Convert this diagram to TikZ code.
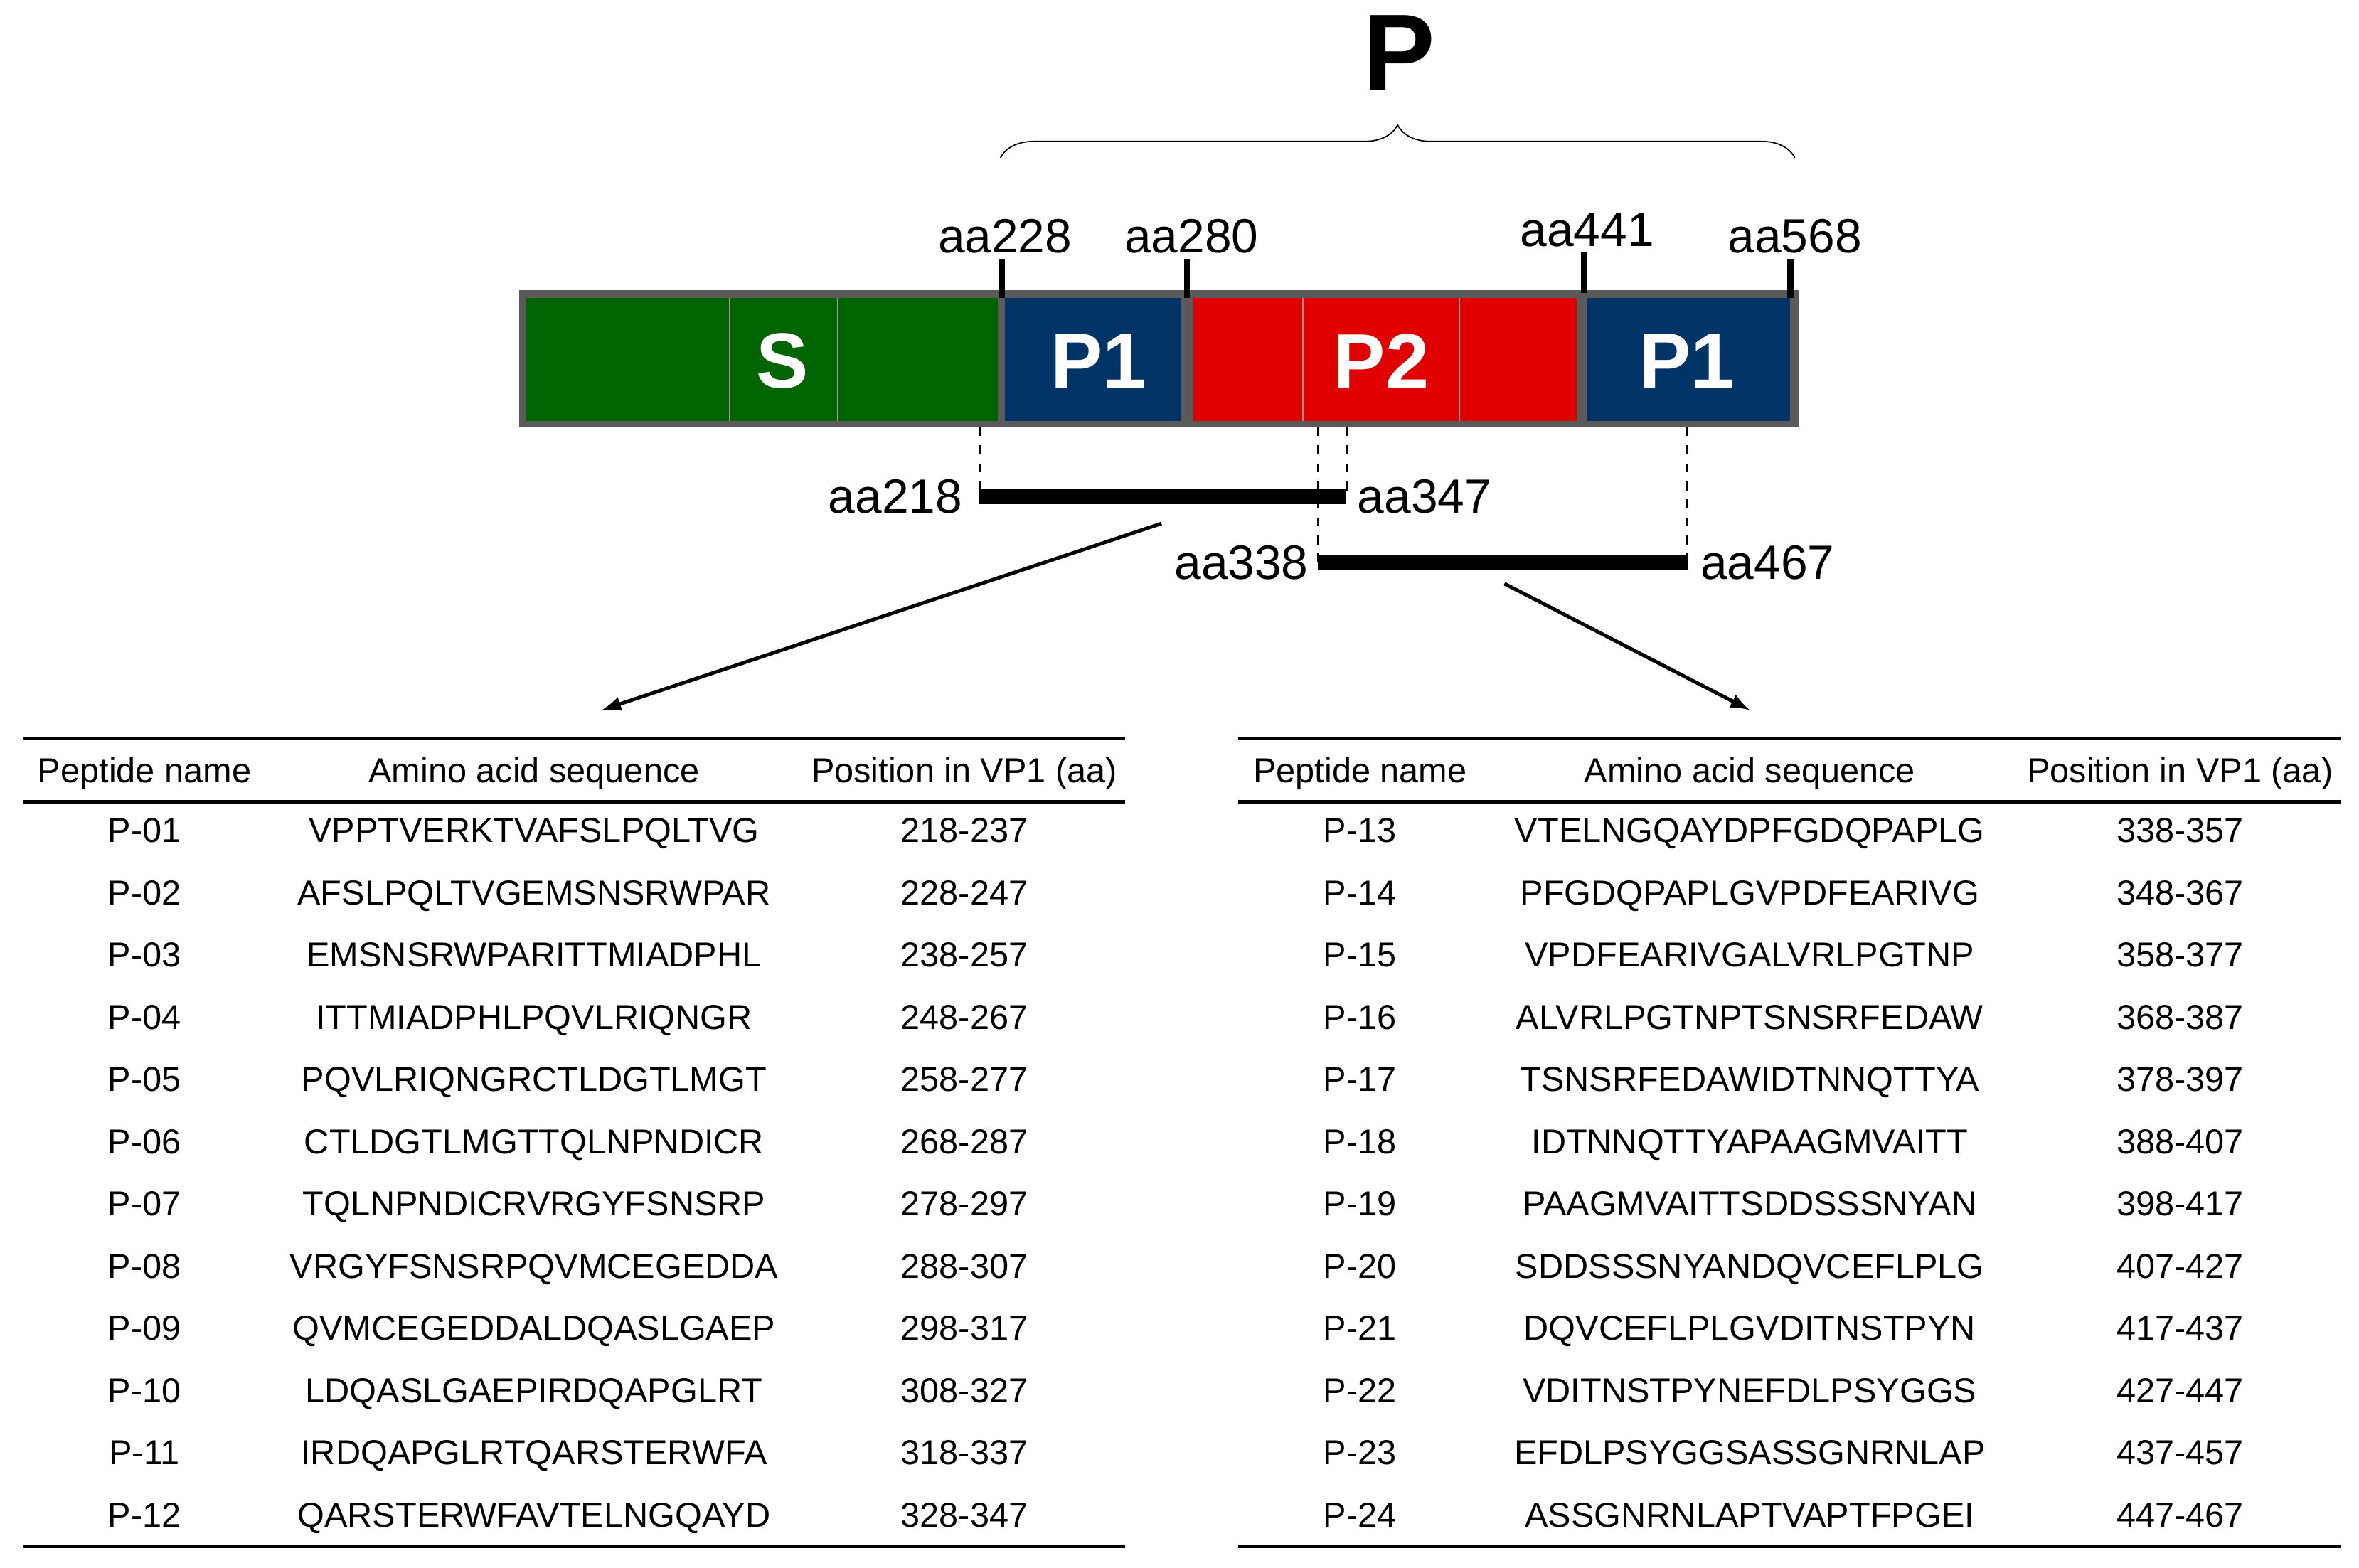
\documentclass[tikz,border=0pt]{standalone}
\usepackage{fontspec}
\setmainfont{Liberation Sans}
\usetikzlibrary{decorations.pathreplacing}
\definecolor{gG}{RGB}{0,100,0}
\definecolor{bB}{RGB}{0,51,102}
\definecolor{rR}{RGB}{224,0,0}
\definecolor{frame}{RGB}{90,90,90}
\begin{document}
\begin{tikzpicture}[x=0.5pt,y=-0.5pt,
  lab/.style={font=\fontsize{16}{16}\selectfont,inner sep=0pt},
  seg/.style={font=\fontsize{26}{26}\selectfont\bfseries,text=white,inner sep=0pt},
  cell/.style={font=\fontsize{11.5}{11.5}\selectfont,inner sep=0pt,anchor=base},
  sep/.style={draw=frame!60,line width=0.4pt}]
\useasboundingbox (0,0) rectangle (1568,1042);
\node[font=\fontsize{36}{36}\selectfont\bfseries] (P) at (930,35) {P};
\draw[decorate,decoration={brace,amplitude=11pt,aspect=0.5}] (665,105) -- (1193,105);
% bar
\fill[frame] (345,193) rectangle (1196,284);
\fill[gG] (350,198) rectangle (663,280);
\fill[bB] (668,198) rectangle (785,280);
\fill[rR] (793,198) rectangle (1048,280);
\fill[bB] (1055,198) rectangle (1190,280);
\draw[sep] (485,198)--(485,280) (557,198)--(557,280) (680,198)--(680,280) (866,198)--(866,280) (970,198)--(970,280);
\node[seg] (S) at (520,240) {S};
\node[seg] (P1a) at (730,240) {P1};
\node[seg] (P2) at (918,240) {P2};
\node[seg] (P1b) at (1121,240) {P1};
\draw[line width=2pt] (666,172)--(666,198) (789,172)--(789,198) (1053,168)--(1053,195) (1190,172)--(1190,198);
\node[lab] (l228) at (668,157) {aa228};
\node[lab] (l280) at (792,157) {aa280};
\node[lab] (l441) at (1055,153) {aa441};
\node[lab] (l568) at (1193,157) {aa568};
% fragments
\draw[dashed,line width=0.7pt] (651,284)--(651,330) (876,284)--(876,374) (895,284)--(895,330) (1121,284)--(1121,374);
\draw[line width=5pt] (651,330)--(895,330);
\draw[line width=5pt] (876,374)--(1122,374);
\node[lab,anchor=east] (l218) at (640,330) {aa218};
\node[lab,anchor=west] (l347) at (902,330) {aa347};
\node[lab,anchor=east] (l338) at (870,374) {aa338};
\node[lab,anchor=west] (l467) at (1130,374) {aa467};
\coordinate (a1) at (772,348); \coordinate (b1) at (400,472);
\coordinate (a2) at (1000,388); \coordinate (b2) at (1163,472);
\draw[-latex,line width=1.2pt] (a1)--(b1);
\draw[-latex,line width=1.2pt] (a2)--(b2);
% tables
\foreach \ox/\first in {0/1,808/13}{
  \draw[line width=1pt] (15+\ox,491)--(748+\ox,491) (15+\ox,533)--(748+\ox,533) (15+\ox,1028)--(748+\ox,1028);
  \node[cell] at (96+\ox,520) {Peptide name};
  \node[cell] at (355+\ox,520) {Amino acid sequence};
  \node[cell] at (641+\ox,520) {Position in VP1 (aa)};
}
\foreach \i/\n/\s/\p in {0/01/VPPTVERKTVAFSLPQLTVG/218-237,1/02/AFSLPQLTVGEMSNSRWPAR/228-247,2/03/EMSNSRWPARITTMIADPHL/238-257,3/04/ITTMIADPHLPQVLRIQNGR/248-267,4/05/PQVLRIQNGRCTLDGTLMGT/258-277,5/06/CTLDGTLMGTTQLNPNDICR/268-287,6/07/TQLNPNDICRVRGYFSNSRP/278-297,7/08/VRGYFSNSRPQVMCEGEDDA/288-307,8/09/QVMCEGEDDALDQASLGAEP/298-317,9/10/LDQASLGAEPIRDQAPGLRT/308-327,10/11/IRDQAPGLRTQARSTERWFA/318-337,11/12/QARSTERWFAVTELNGQAYD/328-347}{
  \node[cell] at (96,560+41.36*\i) {P-\n};
  \node[cell] at (355,560+41.36*\i) {\s};
  \node[cell] at (641,560+41.36*\i) {\p};
}
\foreach \i/\n/\s/\p in {0/13/VTELNGQAYDPFGDQPAPLG/338-357,1/14/PFGDQPAPLGVPDFEARIVG/348-367,2/15/VPDFEARIVGALVRLPGTNP/358-377,3/16/ALVRLPGTNPTSNSRFEDAW/368-387,4/17/TSNSRFEDAWIDTNNQTTYA/378-397,5/18/IDTNNQTTYAPAAGMVAITT/388-407,6/19/PAAGMVAITTSDDSSSNYAN/398-417,7/20/SDDSSSNYANDQVCEFLPLG/407-427,8/21/DQVCEFLPLGVDITNSTPYN/417-437,9/22/VDITNSTPYNEFDLPSYGGS/427-447,10/23/EFDLPSYGGSASSGNRNLAP/437-457,11/24/ASSGNRNLAPTVAPTFPGEI/447-467}{
  \node[cell] at (904,560+41.36*\i) {P-\n};
  \node[cell] at (1163,560+41.36*\i) {\s};
  \node[cell] at (1449,560+41.36*\i) {\p};
}
\end{tikzpicture}
\end{document}
